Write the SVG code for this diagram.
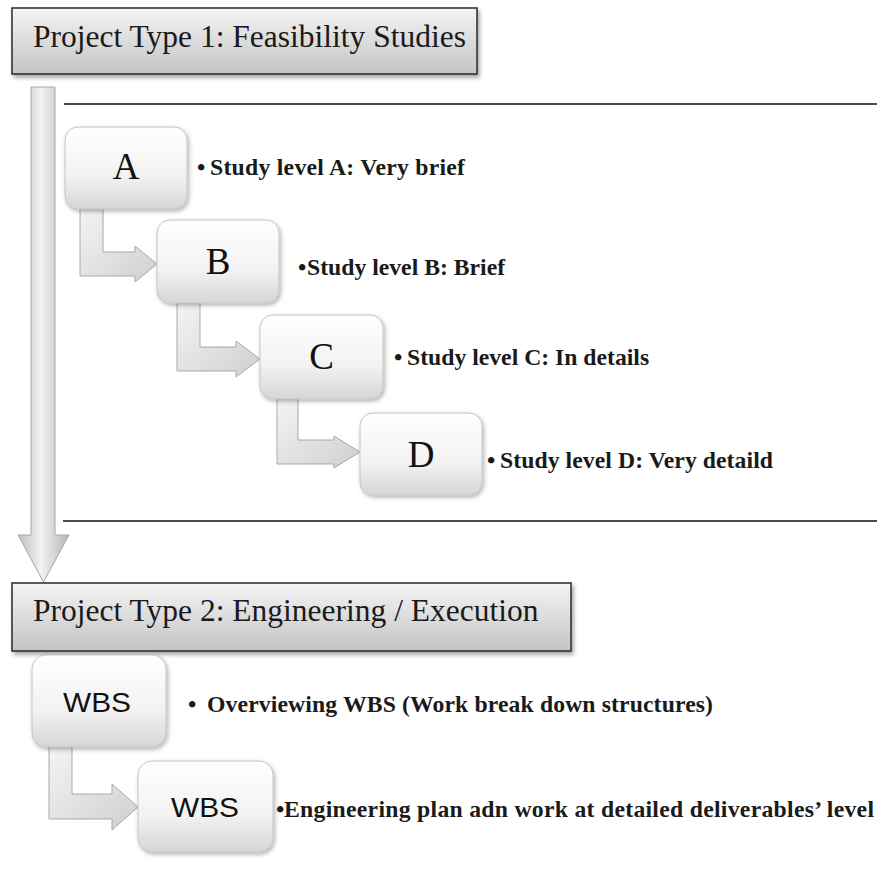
<svg xmlns="http://www.w3.org/2000/svg" width="877" height="873" viewBox="0 0 877 873">
<defs>
<linearGradient id="hdr" x1="0" y1="0" x2="0" y2="1"><stop offset="0" stop-color="#f4f4f4"/><stop offset="1" stop-color="#c4c4c4"/></linearGradient>
<linearGradient id="box" x1="0" y1="0" x2="0" y2="1"><stop offset="0" stop-color="#ffffff"/><stop offset="0.6" stop-color="#f2f2f2"/><stop offset="1" stop-color="#d6d6d6"/></linearGradient>
<linearGradient id="shaft" x1="0" y1="0" x2="1" y2="0"><stop offset="0" stop-color="#bdbdbd"/><stop offset="0.45" stop-color="#f2f2f2"/><stop offset="1" stop-color="#b5b5b5"/></linearGradient>
<linearGradient id="elb" x1="0" y1="0" x2="1" y2="1"><stop offset="0" stop-color="#f4f4f4"/><stop offset="1" stop-color="#cfcfcf"/></linearGradient>
<filter id="sh" x="-10%" y="-10%" width="130%" height="140%"><feDropShadow dx="2" dy="3" stdDeviation="2" flood-color="#000" flood-opacity="0.35"/></filter>
<filter id="sh2" x="-10%" y="-10%" width="130%" height="140%"><feDropShadow dx="1.5" dy="2" stdDeviation="2" flood-color="#000" flood-opacity="0.3"/></filter>
</defs>
<style>
.hdr{fill:url(#hdr);stroke:#2a2a2a;stroke-width:1.5;filter:url(#sh)}
.htxt{font-family:"Liberation Serif","Times New Roman",serif;font-size:31.5px;fill:#1a1a1a}
.box{fill:url(#box);stroke:#c4c4c4;stroke-width:1;filter:url(#sh2)}
.ltr{font-family:"Liberation Serif","Times New Roman",serif;font-size:37px;fill:#111;text-anchor:middle}
.wbs{font-family:"Liberation Sans",Arial,sans-serif;font-size:28px;fill:#111;text-anchor:middle}
.lbl{font-family:"Liberation Serif","Times New Roman",serif;font-size:23.7px;font-weight:bold;fill:#1a1a1a}
.elb{fill:url(#elb);stroke:#a8a8a8;stroke-width:1}
.rule{stroke:#111;stroke-width:1.5}
</style>

<g id="header1">
<rect class="hdr" x="12" y="8" width="465" height="66"/>
<text class="htxt" x="33" y="47">Project Type 1: Feasibility Studies</text>
</g>

<g id="connectors">
<path d="M31,87 L55,87 L55,535 L69,535 L43.5,582 L18,535 L31,535 Z" fill="url(#shaft)" stroke="#a8a8a8" stroke-width="1"/>
<line class="rule" x1="64" y1="104" x2="877" y2="104"/>
<line class="rule" x1="63" y1="521" x2="877" y2="521"/>
<path class="elb" d="M80,209 L103,209 L103,252 L135,252 L135,246 L157,264 L135,282 L135,276 L80,276 Z"/>
<path class="elb" d="M177,303 L200,303 L200,347 L236,347 L236,341 L260,359 L236,377 L236,371 L177,371 Z"/>
<path class="elb" d="M277,399 L298,399 L298,440 L334,440 L334,436 L360,452 L334,468 L334,464 L277,464 Z"/>
<path class="elb" d="M49,747 L72,747 L72,794 L112,794 L112,784 L138,807 L112,830 L112,819 L49,819 Z"/>
</g>

<g id="nodeA">
<rect class="box" x="65" y="127" width="122" height="82" rx="13"/>
<text class="ltr" x="126" y="179">A</text>
<text class="lbl" x="197" y="175">•</text>
<text class="lbl" x="210" y="175" textLength="255">Study level A: Very brief</text>
</g>
<g id="nodeB">
<rect class="box" x="157" y="220" width="122" height="83" rx="13"/>
<text class="ltr" x="218" y="274">B</text>
<text class="lbl" x="298" y="275">•</text>
<text class="lbl" x="307" y="275">Study level B: Brief</text>
</g>
<g id="nodeC">
<rect class="box" x="260" y="315" width="123" height="84" rx="13"/>
<text class="ltr" x="321.5" y="369">C</text>
<text class="lbl" x="394" y="365">•</text>
<text class="lbl" x="407" y="365">Study level C: In details</text>
</g>
<g id="nodeD">
<rect class="box" x="360" y="413" width="122" height="82" rx="13"/>
<text class="ltr" x="421" y="467">D</text>
<text class="lbl" x="487" y="468">•</text>
<text class="lbl" x="500" y="468" textLength="273">Study level D: Very detaild</text>
</g>

<g id="header2">
<rect class="hdr" x="12" y="583" width="559" height="68"/>
<text class="htxt" x="33" y="621">Project Type 2: Engineering / Execution</text>
</g>

<g id="wbs1">
<rect class="box" x="32" y="655" width="134" height="92" rx="14"/>
<text class="wbs" x="97" y="712" textLength="68" lengthAdjust="spacingAndGlyphs">WBS</text>
<text class="lbl" x="188" y="712">•</text>
<text class="lbl" x="207" y="712" textLength="506">Overviewing WBS (Work break down structures)</text>
</g>
<g id="wbs2">
<rect class="box" x="138" y="761" width="135" height="91" rx="14"/>
<text class="wbs" x="205" y="817" textLength="68" lengthAdjust="spacingAndGlyphs">WBS</text>
<text class="lbl" x="276" y="817">•</text>
<text class="lbl" x="284" y="817" textLength="590">Engineering plan adn work at detailed deliverables’ level</text>
</g>
</svg>
